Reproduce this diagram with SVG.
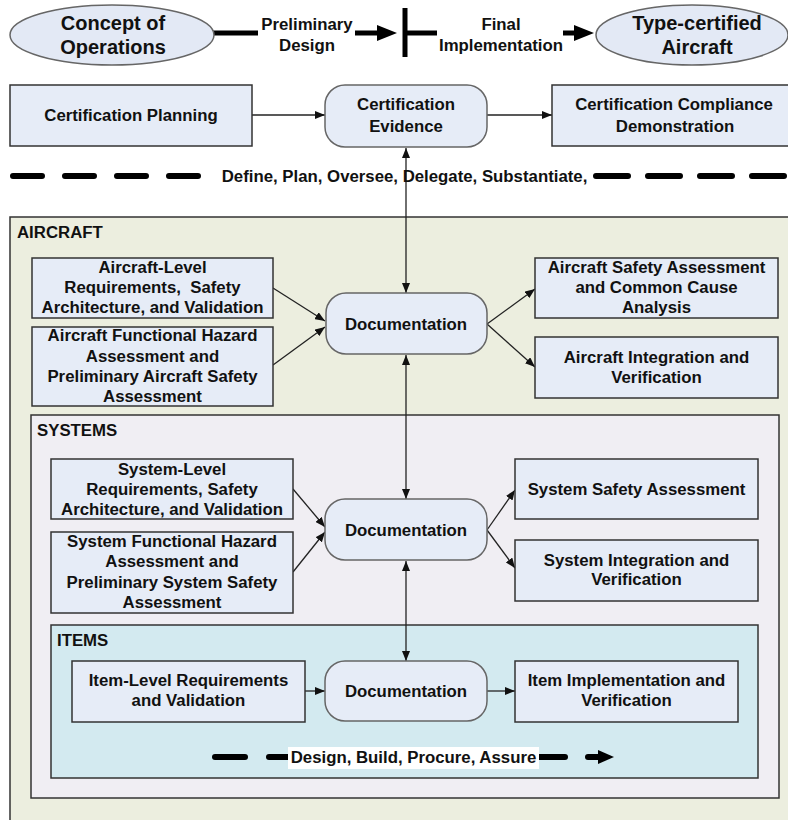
<svg xmlns="http://www.w3.org/2000/svg" width="788" height="820" viewBox="0 0 788 820">
<style>
text{font-family:"Liberation Sans",Arial,sans-serif;font-weight:bold;font-size:16.8px;fill:#111;text-anchor:middle}
.lbl{text-anchor:start}
.big{font-size:20px}
.box{fill:#e6ecf7;stroke:#333;stroke-width:1.5}
.doc{fill:#e6ecf7;stroke:#666;stroke-width:1.5}
.ell{fill:#e3e9f5;stroke:#666;stroke-width:1.5}
.thin{stroke:#222;stroke-width:1.3;fill:none}
.thick{stroke:#000;stroke-width:5;fill:none}
.dash{stroke:#000;stroke-width:6;stroke-linecap:round;fill:none}
</style>
<defs>
<marker id="ah" markerUnits="userSpaceOnUse" markerWidth="10" markerHeight="8" refX="10" refY="4" orient="auto-start-reverse"><path d="M0,0 L10,4 L0,8 z" fill="#111"/></marker>
<marker id="bh" markerUnits="userSpaceOnUse" markerWidth="20" markerHeight="16" refX="4" refY="8" orient="auto"><path d="M0,0 L20,8 L0,16 z" fill="#000"/></marker>
</defs>
<rect width="788" height="820" fill="#fff"/>
<g id="regions">
<rect id="aircraft" x="10" y="217" width="800" height="620" fill="#eceedf" stroke="#333" stroke-width="1.5"/>
<text class="lbl" x="17" y="238">AIRCRAFT</text>
<rect id="systems" x="31" y="415" width="748" height="383" fill="#f0eef3" stroke="#333" stroke-width="1.5"/>
<text class="lbl" x="37" y="436">SYSTEMS</text>
<rect id="items" x="51" y="625" width="707" height="153" fill="#d3eaf0" stroke="#333" stroke-width="1.5"/>
<text class="lbl" x="57" y="646">ITEMS</text>
</g>
<g id="connectors">
<line class="thick" x1="213" y1="33" x2="258" y2="33"/>
<line class="thick" x1="355" y1="33" x2="381" y2="33" marker-end="url(#bh)"/>
<line class="thick" x1="405" y1="8" x2="405" y2="57"/>
<line class="thick" x1="405" y1="33" x2="437" y2="33"/>
<line class="thick" x1="563" y1="33" x2="578" y2="33" marker-end="url(#bh)"/>
<line class="thin" x1="252" y1="115" x2="325" y2="115" marker-end="url(#ah)"/>
<line class="thin" x1="487" y1="115" x2="552" y2="115" marker-end="url(#ah)"/>
<line class="dash" x1="13" y1="176" x2="200" y2="176" stroke-dasharray="29 23"/>
<line class="dash" x1="596" y1="176" x2="788" y2="176" stroke-dasharray="32 20"/>
<line class="thin" x1="406" y1="148" x2="406" y2="293" marker-start="url(#ah)" marker-end="url(#ah)"/>
<line class="thin" x1="406" y1="355" x2="406" y2="499" marker-start="url(#ah)" marker-end="url(#ah)"/>
<line class="thin" x1="406" y1="561" x2="406" y2="661" marker-start="url(#ah)" marker-end="url(#ah)"/>
<line class="thin" x1="273" y1="288" x2="325" y2="321" marker-end="url(#ah)"/>
<line class="thin" x1="273" y1="365" x2="325" y2="327" marker-end="url(#ah)"/>
<line class="thin" x1="487" y1="324" x2="535" y2="289" marker-end="url(#ah)"/>
<line class="thin" x1="487" y1="324" x2="535" y2="367" marker-end="url(#ah)"/>
<line class="thin" x1="293" y1="489" x2="325" y2="527" marker-end="url(#ah)"/>
<line class="thin" x1="293" y1="572" x2="325" y2="532" marker-end="url(#ah)"/>
<line class="thin" x1="487" y1="530" x2="515" y2="490" marker-end="url(#ah)"/>
<line class="thin" x1="487" y1="530" x2="515" y2="568" marker-end="url(#ah)"/>
<line class="thin" x1="305" y1="691" x2="325" y2="691" marker-end="url(#ah)"/>
<line class="thin" x1="487" y1="691" x2="515" y2="691" marker-end="url(#ah)"/>
<line class="dash" x1="215" y1="757" x2="245" y2="757"/>
<line class="dash" x1="269" y1="757" x2="295" y2="757"/>
<line class="dash" x1="535" y1="757" x2="565" y2="757"/>
<line class="dash" x1="588" y1="757" x2="598" y2="757"/>
<path d="M598,750 L614,757 L598,764 z" fill="#000"/>
</g>
<g id="labels">
<text x="307" y="30">Preliminary</text>
<text x="307" y="51">Design</text>
<text x="501" y="30">Final</text>
<text x="501" y="51">Implementation</text>
<text x="404.5" y="182">Define, Plan, Oversee, Delegate, Substantiate,</text>
<rect x="288" y="747" width="251" height="22" fill="#fff"/>
<text x="413.5" y="763">Design, Build, Procure, Assure</text>
</g>
<g id="n-conops"><ellipse class="ell" cx="112" cy="35" rx="102" ry="30"/><text class="big" x="113" y="30">Concept of</text><text class="big" x="113" y="54">Operations</text></g>
<g id="n-typecert"><ellipse class="ell" cx="692" cy="35" rx="96" ry="30"/><text class="big" x="697" y="30">Type-certified</text><text class="big" x="697" y="54">Aircraft</text></g>
<g id="n-certplan"><rect class="box" x="10" y="85" width="242" height="61"/><text x="131" y="121">Certification Planning</text></g>
<g id="n-certevid"><rect class="doc" x="325" y="85" width="162" height="62" rx="20"/><text x="406" y="110">Certification</text><text x="406" y="132">Evidence</text></g>
<g id="n-certcomp"><rect class="box" x="552" y="85" width="250" height="61"/><text x="674" y="110">Certification Compliance</text><text x="675" y="132">Demonstration</text></g>
<g id="n-acreq"><rect class="box" x="32" y="258" width="241" height="60"/><text x="152.5" y="273">Aircraft-Level</text><text x="152.5" y="293">Requirements,&#160; Safety</text><text x="152.5" y="313">Architecture, and Validation</text></g>
<g id="n-acfha"><rect class="box" x="32" y="327" width="241" height="79"/><text x="152.5" y="341">Aircraft Functional Hazard</text><text x="152.5" y="362">Assessment and</text><text x="152.5" y="382">Preliminary Aircraft Safety</text><text x="152.5" y="402">Assessment</text></g>
<g id="n-acdoc"><rect class="doc" x="326" y="293" width="161" height="61" rx="20"/><text x="406" y="330">Documentation</text></g>
<g id="n-acsa"><rect class="box" x="535" y="258" width="243" height="60"/><text x="656.5" y="273">Aircraft Safety Assessment</text><text x="656.5" y="293">and Common Cause</text><text x="656.5" y="313">Analysis</text></g>
<g id="n-aciv"><rect class="box" x="535" y="337" width="243" height="61"/><text x="656.5" y="363">Aircraft Integration and</text><text x="656.5" y="383">Verification</text></g>
<g id="n-sysreq"><rect class="box" x="51" y="459" width="242" height="60"/><text x="172" y="475">System-Level</text><text x="172" y="495">Requirements, Safety</text><text x="172" y="515">Architecture, and Validation</text></g>
<g id="n-sysfha"><rect class="box" x="51" y="532" width="242" height="81"/><text x="172" y="547">System Functional Hazard</text><text x="172" y="567">Assessment and</text><text x="172" y="588">Preliminary System Safety</text><text x="172" y="608">Assessment</text></g>
<g id="n-sysdoc"><rect class="doc" x="325" y="499" width="162" height="61" rx="20"/><text x="406" y="536">Documentation</text></g>
<g id="n-sysssa"><rect class="box" x="515" y="459" width="243" height="60"/><text x="636.5" y="495">System Safety Assessment</text></g>
<g id="n-sysiv"><rect class="box" x="515" y="540" width="243" height="61"/><text x="636.5" y="566">System Integration and</text><text x="636.5" y="585">Verification</text></g>
<g id="n-itemreq"><rect class="box" x="72" y="661" width="233" height="61"/><text x="188.5" y="686">Item-Level Requirements</text><text x="188.5" y="706">and Validation</text></g>
<g id="n-itemdoc"><rect class="doc" x="325" y="661" width="162" height="60" rx="20"/><text x="406" y="697">Documentation</text></g>
<g id="n-itemiv"><rect class="box" x="515" y="661" width="223" height="61"/><text x="626.5" y="686">Item Implementation and</text><text x="626.5" y="706">Verification</text></g>
</svg>
